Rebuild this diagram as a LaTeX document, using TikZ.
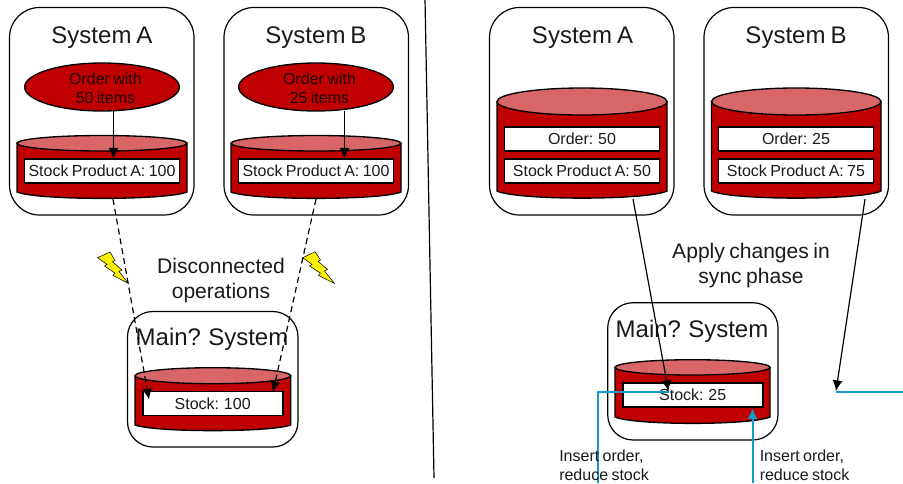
\documentclass[tikz,border=0pt]{standalone}
\usepackage{fontspec}
\setmainfont[WordSpace=0.75]{Liberation Sans}
\usetikzlibrary{arrows.meta,shapes.geometric}
\definecolor{dbred}{HTML}{C00000}
\definecolor{dbtop}{HTML}{D96666}
\definecolor{txt}{HTML}{1A1A1A}
\definecolor{syncblue}{HTML}{1499C9}
\newcommand{\dbcyl}[6]{% x1,x2,ytop,yellbottom,ysidebottom,ybottom
  \path[draw=black,line width=1pt,fill=dbred] (#1,{(#3+#4)/2}) -- (#1,#5)
    .. controls (#1+20,#6+1.5) and (#2-20,#6+1.5) .. (#2,#5) -- (#2,{(#3+#4)/2}) -- cycle;
  \path[draw=black,line width=1pt,fill=dbtop] ({(#1+#2)/2},{(#3+#4)/2}) ellipse [x radius={(#2-#1)/2},y radius={(#4-#3)/2}];
}
\tikzset{
  sysline/.style={draw=black,line width=0.9pt},
  recbox/.style={draw=black,line width=1.2pt,fill=white,text=txt,font=\fontsize{12}{14}\selectfont,inner sep=0pt,minimum height=18pt,anchor=center},
  title/.style={text=txt,font=\fontsize{18}{21}\selectfont,inner sep=0pt,anchor=center},
  caption/.style={text=txt,font=\fontsize{15.8}{18.75}\selectfont,inner sep=0pt,anchor=center},
  note/.style={text=txt,font=\fontsize{12}{14.25}\selectfont,inner sep=0pt,anchor=west},
  order/.style={ellipse,draw=black,line width=1pt,fill=dbred,inner sep=0pt,minimum width=116pt,minimum height=36pt},
  ordertext/.style={text=black!85!dbred,font=\fontsize{12}{14}\selectfont,inner sep=0pt,anchor=center},
  flow/.style={draw=black,line width=0.9pt,-{Latex[length=8pt,width=7.5pt]}},
  dflow/.style={flow,dash pattern=on 4.5pt off 3pt},
  sync/.style={draw=syncblue,line width=1.5pt},
  bolt/.style={draw=black,line width=0.4pt,fill=yellow},
}
\begin{document}
\begin{tikzpicture}[x=0.75pt,y=-0.75pt]
\useasboundingbox (0,0) rectangle (903,483);
\path[fill=white] (0,0) rectangle (903,483);
% divider
\coordinate (divT) at (425,-1);
\coordinate (divB) at (434,478);
\draw[line width=0.9pt,black] (divT) -- (divB);
%% left half
\draw[sysline,rounded corners=22.5pt] (9.5,7.5) rectangle (194,215);
\draw[sysline,rounded corners=22.5pt] (224,7.5) rectangle (408.5,215);
\draw[sysline,rounded corners=19pt] (127.5,311.5) rectangle (298,447);
\node[title] (tA) at (102,37.5) {System A};
\node[title] (tB) at (316,37.5) {System B};
\node[title] (tM) at (212,339.5) {Main? System};
\dbcyl{17}{187}{135.5}{151}{192}{199}
\dbcyl{231}{401}{135.5}{151}{192}{199}
\dbcyl{135}{290.7}{367.7}{383.7}{425}{431}
\node[order] (oA) at (102,87) {};
\node[order] (oB) at (316,87) {};
\node[ordertext,align=center] (oAt) at (105.5,88) {Order with\\50 items};
\node[ordertext,align=center] (oBt) at (319.5,88) {Order with\\25 items};
\node[recbox,minimum width=116pt] (sA) at (102,171) {Stock Product A: 100};
\node[recbox,minimum width=116pt] (sB) at (316,171) {Stock Product A: 100};
\node[recbox,minimum width=105pt] (sM) at (212.7,403.5) {Stock: 100};
\coordinate (cAb) at (113,199);
\coordinate (cBb) at (316,199);
\coordinate (mL) at (149,399.5);
\coordinate (mR) at (273,392);
\draw[flow] (113.4,111) -- (113.4,158.5);
\draw[flow] (344.5,111) -- (344.5,158.5);
\draw[dflow] (cAb) -- (mL);
\draw[dflow] (cBb) -- (mR);
\node[caption,align=center] (disc) at (221,281) {Disconnected\\operations};
\path[bolt] (97.7,257.7) -- (110,252) -- (115,260.5) -- (112.5,261.7) -- (122,270) -- (119,271.5) -- (128.3,283.3) -- (113,275.5) -- (114.8,273) -- (104.5,266) -- (107,264.5) -- cycle;
\path[bolt] (302.7,257.7) -- (315,251.7) -- (320.5,260) -- (318,261.2) -- (327.5,269.5) -- (324.5,271) -- (334.3,283.3) -- (318.5,275.5) -- (320.3,273) -- (309.5,266) -- (312,264.5) -- cycle;
%% right half
\draw[sysline,rounded corners=22.5pt] (489.5,7.5) rectangle (674,215);
\draw[sysline,rounded corners=22.5pt] (704,7.5) rectangle (888.5,215);
\draw[sysline,rounded corners=19pt] (607.7,302.7) rectangle (778,440);
\node[title] (tA2) at (582.5,37.5) {System A};
\node[title] (tB2) at (796,37.5) {System B};
\node[title] (tM2) at (692,331.5) {Main? System};
\dbcyl{497}{667}{88}{115}{191}{199}
\dbcyl{711.5}{881}{88}{115}{191}{199}
\dbcyl{615}{770}{359.7}{375}{417}{424}
\node[recbox,minimum width=116pt] (oA2) at (582,139) {Order: 50};
\node[recbox,minimum width=116pt] (oB2) at (796,139) {Order: 25};
\node[recbox,minimum width=116pt] (sA2) at (582,171) {Stock Product A: 50};
\node[recbox,minimum width=116pt] (sB2) at (796,171) {Stock Product A: 75};
\node[recbox,minimum width=105pt] (sM2) at (692.7,395) {Stock: 25};
\node[caption,align=center] (apply) at (751,266) {Apply changes in\\sync phase};
\coordinate (a2b) at (633,199);
\coordinate (b2b) at (865,199);
\coordinate (m2t) at (668.5,391);
\coordinate (free) at (836,391);
\draw[flow] (a2b) -- (m2t);
\draw[flow] (b2b) -- (free);
\coordinate (edgeR) at (903,391.5);
\coordinate (edgeB1) at (598,483);
\coordinate (edgeB2) at (752.5,483);
\draw[sync] (free |- edgeR) -- (edgeR);
\draw[sync] (m2t |- edgeR) -- (edgeB1 |- edgeR) -- (edgeB1);
\draw[sync,-{Latex[length=8pt,width=8pt]}] (edgeB2) -- (752.5,408.5);
\node[note,align=left] (n1) at (559,465) {Insert order,\\reduce stock};
\node[note,align=left] (n2) at (759.5,465) {Insert order,\\reduce stock};
\end{tikzpicture}
\end{document}
